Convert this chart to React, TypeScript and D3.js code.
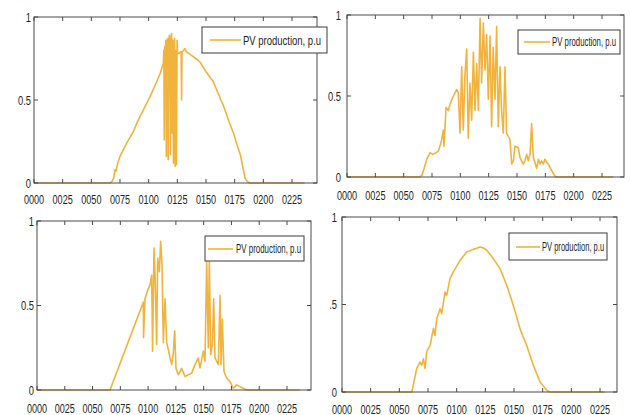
import React from "react";
import * as d3 from "d3";

const xTickValues = [0, 25, 50, 75, 100, 125, 150, 175, 200, 225];
const xTickLabels = ["0000", "0025", "0050", "0075", "0100", "0125", "0150", "0175", "0200", "0225"];
const yTickValues = [0, 0.5, 1];
const yTickLabels = ["0", "0.5", "1"];
const yTickLabelsCut = ["0", ".5", "1"];
const legendLabel = "PV production, p.u";

// Day 1: clear sky with a cloudy burst around midday
const day1: [number, number][] = [
  [0, 0], [66, 0], [68, 0.01], [69.5, 0.03], [70.6, 0.08], [71.5, 0.07], [73, 0.12], [75, 0.16],
  [80.8, 0.24], [86.6, 0.31], [91, 0.38], [95.4, 0.44], [101.2, 0.52], [107, 0.61], [110, 0.66],
  [112.8, 0.72], [113.2, 0.8], [113.6, 0.26], [114.0, 0.82], [114.5, 0.79], [115.0, 0.86],
  [115.4, 0.16], [115.9, 0.84], [116.5, 0.87], [117.0, 0.14], [117.5, 0.85], [118.0, 0.89],
  [118.5, 0.82], [119.0, 0.17], [119.5, 0.88], [120.0, 0.9], [120.5, 0.3], [121.0, 0.86],
  [121.6, 0.12], [122.1, 0.84], [122.6, 0.87], [123.1, 0.1], [123.6, 0.8], [124.2, 0.11],
  [124.8, 0.86], [125.3, 0.78], [126.5, 0.78], [127.5, 0.79], [128.3, 0.79], [128.7, 0.5],
  [129.1, 0.79], [130.5, 0.8], [131.5, 0.81], [133, 0.79], [137, 0.77], [141, 0.75],
  [144.7, 0.73], [150, 0.67], [156.4, 0.61], [160, 0.55], [163, 0.5], [165, 0.47], [170, 0.37],
  [174, 0.3], [177, 0.23], [180, 0.17], [182, 0.1], [184, 0.03], [186, 0.01], [188, 0], [236, 0],
];

// Day 2: highly variable cloudy day
const day2: [number, number][] = [
  [0, 0], [64, 0], [66, 0.01], [67.5, 0.04], [70.4, 0.11], [73.3, 0.15], [75.5, 0.14], [77.6, 0.146],
  [80.6, 0.16], [82.5, 0.2], [83.5, 0.23], [85, 0.29], [85.6, 0.19], [87.4, 0.43], [89.4, 0.41],
  [90.9, 0.45], [93.8, 0.5], [96.8, 0.54], [98.2, 0.52], [99.7, 0.27], [101.2, 0.68], [102.6, 0.29],
  [104, 0.62], [105.6, 0.79], [107, 0.24], [108.5, 0.58], [110, 0.35], [111.5, 0.77], [113, 0.41],
  [114.4, 0.7], [115.9, 0.41], [117.4, 0.98], [118.8, 0.58], [120.3, 0.95], [121.8, 0.66],
  [123.2, 0.88], [124.7, 0.48], [126.2, 0.87], [127.6, 0.31], [129, 0.8], [130.6, 0.48],
  [132, 0.93], [133.5, 0.31], [135, 0.68], [136.4, 0.41], [137.9, 0.27], [139.4, 0.68],
  [140.8, 0.27], [142.3, 0.25], [143.8, 0.23], [145.3, 0.08], [146.8, 0.1], [148.2, 0.19],
  [151.2, 0.18], [152.6, 0.12], [155.5, 0.08], [157, 0.1], [158.5, 0.14], [160, 0.1],
  [161.5, 0.14], [162.9, 0.33], [164.4, 0.12], [167.3, 0.054], [168.8, 0.11], [170.3, 0.08],
  [171.7, 0.1], [173.2, 0.08], [174.7, 0.11], [176.2, 0.09], [177.6, 0.08], [180.5, 0.04],
  [183.5, 0.005], [185, 0], [235, 0],
];

// Day 3: clouds in the morning and afternoon
const day3: [number, number][] = [
  [0, 0], [65.7, 0], [95.7, 0.52], [95.9, 0.31], [97.2, 0.54], [100.2, 0.6], [101.7, 0.62],
  [103.2, 0.68], [104, 0.23], [105.3, 0.84], [106.2, 0.7], [107.7, 0.27], [108.6, 0.78],
  [110.1, 0.7], [111.3, 0.88], [112.5, 0.74], [113.7, 0.28], [115.2, 0.54], [116.7, 0.28],
  [118.2, 0.24], [119.7, 0.19], [121.2, 0.15], [122.7, 0.22], [123.9, 0.35], [125.1, 0.128],
  [127.2, 0.09], [130.2, 0.128], [133.2, 0.08], [136.2, 0.09], [139.2, 0.1], [142.2, 0.15],
  [145.2, 0.19], [146.7, 0.13], [149.7, 0.23], [151.2, 0.17], [152.7, 0.76], [154.2, 0.25],
  [155.1, 0.78], [156.3, 0.21], [157.8, 0.27], [159, 0.54], [160.2, 0.19], [161.7, 0.17],
  [163.2, 0.15], [164.7, 0.56], [165.6, 0.15], [166.8, 0.42], [168.3, 0.11], [170.7, 0.07],
  [173.7, 0.05], [176.7, 0.01], [179.7, 0.03], [182.7, 0.02], [185.7, 0.01], [188.7, 0], [236.7, 0],
];

// Day 4: clear sky
const day4: [number, number][] = [
  [0, 0], [60.8, 0], [62.2, 0.04], [65.1, 0.134], [68, 0.171], [69.5, 0.152], [71, 0.19],
  [72.4, 0.134], [73.9, 0.23], [76.8, 0.267], [79.7, 0.362], [81.1, 0.324], [82.6, 0.419],
  [85.5, 0.476], [86.9, 0.448], [89.9, 0.571], [91.3, 0.552], [94.2, 0.648], [97.1, 0.686],
  [102.9, 0.752], [108.7, 0.8], [114.5, 0.815], [117, 0.82], [120.3, 0.829], [123.3, 0.823],
  [126.2, 0.81], [132, 0.762], [137.8, 0.705], [143.6, 0.61], [149.4, 0.495], [155.2, 0.362],
  [161, 0.267], [166.9, 0.152], [172.7, 0.057], [178.5, 0.01], [181.4, 0], [229, 0],
];

type PanelProps = {
  data: [number, number][];
  l: number; r: number; t: number; b: number;
  xMax: number;
  labelDy: number;
  yLabelX: number;
  yLabels: string[];
  leg: { x: number; y: number; w: number; h: number; lx1: number; lx2: number; ly: number; tx: number; sx: number; fs: number };
};

const ORANGE = "#F2B33D";
const FONT = "'Liberation Sans', Arial, sans-serif";
const AX = "#4a4a4a";

function Panel(p: PanelProps) {
  const x = d3.scaleLinear().domain([0, p.xMax]).range([p.l, p.r]);
  const y = d3.scaleLinear().domain([0, 1]).range([p.b, p.t]);
  const line = d3.line<[number, number]>().x((d) => x(d[0])).y((d) => y(d[1]));
  const tl = 4;
  return (
    <g>
      <path d={line(p.data) || ""} fill="none" stroke={ORANGE} strokeWidth={1.6} strokeLinejoin="round" />
      <rect x={p.l} y={p.t} width={p.r - p.l} height={p.b - p.t} fill="none" stroke={AX} strokeWidth={1} />
      {xTickValues.map((v, i) => (
        <g key={"x" + i}>
          <line x1={x(v)} x2={x(v)} y1={p.b} y2={p.b - tl} stroke={AX} />
          <line x1={x(v)} x2={x(v)} y1={p.t} y2={p.t + tl} stroke={AX} />
          <text transform={`translate(${x(v)},${p.b + p.labelDy}) scale(0.7,1)`} textAnchor="middle"
            fontSize={13} fontFamily={FONT} fill="#262626">{xTickLabels[i]}</text>
        </g>
      ))}
      {yTickValues.map((v, i) => (
        <g key={"y" + i}>
          <line x1={p.l} x2={p.l + tl} y1={y(v)} y2={y(v)} stroke={AX} />
          <line x1={p.r} x2={p.r - tl} y1={y(v)} y2={y(v)} stroke={AX} />
          <text transform={`translate(${p.yLabelX},${y(v)}) scale(0.72,1)`} dy="0.36em" textAnchor="end"
            fontSize={13} fontFamily={FONT} fill="#262626">{p.yLabels[i]}</text>
        </g>
      ))}
      <rect x={p.leg.x} y={p.leg.y} width={p.leg.w} height={p.leg.h} fill="#fff" stroke="#3a3a3a" strokeWidth={1} />
      <line x1={p.leg.lx1} x2={p.leg.lx2} y1={p.leg.ly} y2={p.leg.ly} stroke={ORANGE} strokeWidth={1.6} />
      <text transform={`translate(${p.leg.tx},${p.leg.ly}) scale(${p.leg.sx},1)`} dy="0.36em"
        fontSize={p.leg.fs} fontFamily={FONT} fill="#262626">{legendLabel}</text>
    </g>
  );
}

export default function App() {
  return (
    <svg width={630} height={415} style={{ position: "absolute", left: 0, top: 0, background: "#fff" }}>
      <rect width={630} height={415} fill="#fff" />
      <Panel data={day1} l={34} r={317} t={17} b={183} xMax={246.8} labelDy={21} yLabelX={31} yLabels={yTickLabels}
        leg={{ x: 202, y: 27, w: 125, h: 26, lx1: 210, lx2: 241, ly: 40, tx: 243, sx: 0.73, fs: 13 }} />
      <Panel data={day2} l={347} r={624} t={15} b={177} xMax={244.4} labelDy={23} yLabelX={341} yLabels={yTickLabels}
        leg={{ x: 518, y: 30, w: 102, h: 24, lx1: 524, lx2: 550, ly: 42, tx: 552, sx: 0.65, fs: 12 }} />
      <Panel data={day3} l={37} r={311} t={221} b={390} xMax={246.6} labelDy={23} yLabelX={34} yLabels={yTickLabels}
        leg={{ x: 205, y: 236, w: 99, h: 25, lx1: 208, lx2: 233, ly: 249, tx: 236, sx: 0.66, fs: 12 }} />
      <Panel data={day4} l={342} r={617} t={217} b={392} xMax={239.8} labelDy={22} yLabelX={337} yLabels={yTickLabelsCut}
        leg={{ x: 509, y: 233, w: 98, h: 27, lx1: 516, lx2: 540, ly: 247, tx: 542, sx: 0.63, fs: 12 }} />
    </svg>
  );
}
